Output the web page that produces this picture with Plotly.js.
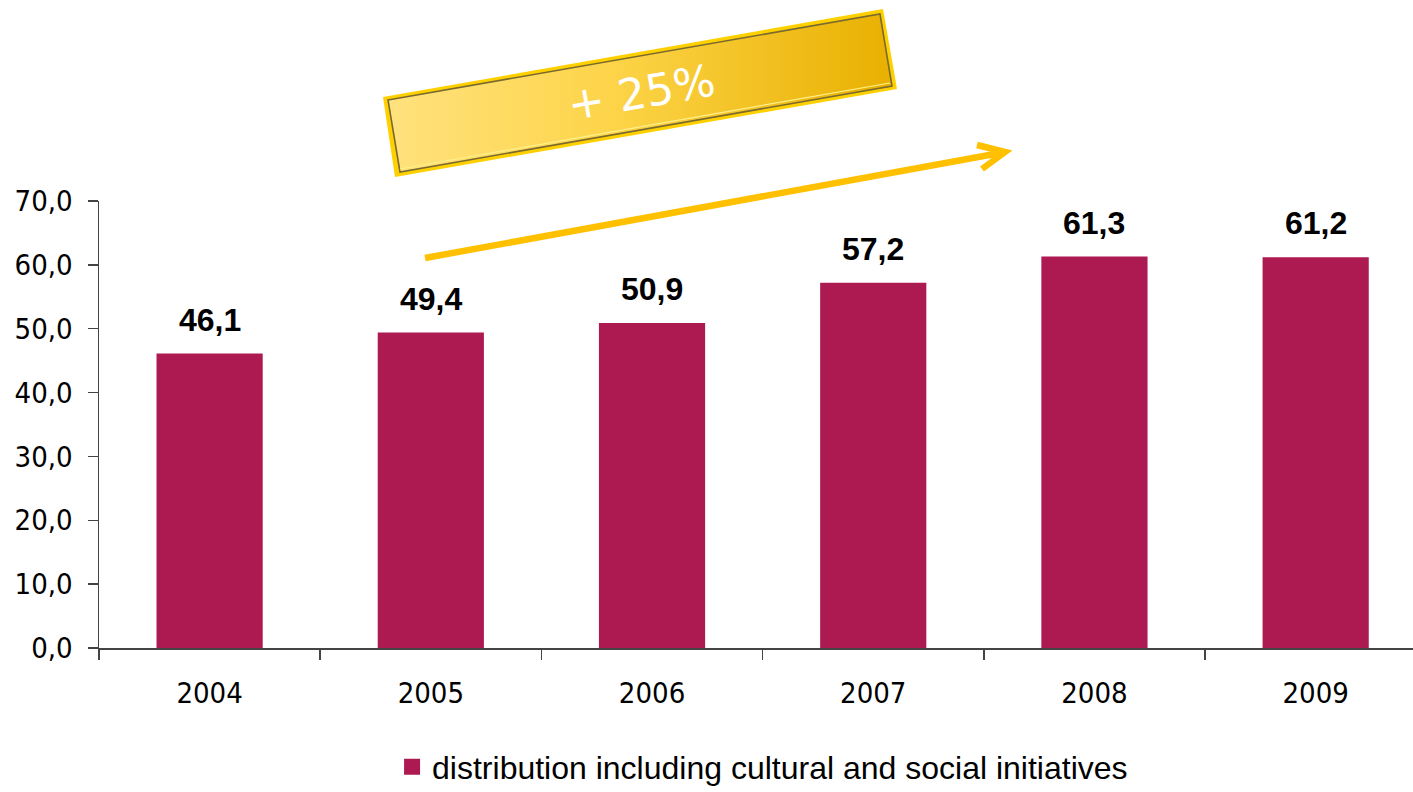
<!DOCTYPE html>
<html>
<head>
<meta charset="utf-8">
<script src="https://cdn.plot.ly/plotly-3.0.1.min.js"></script>
<style>html,body{margin:0;padding:0;background:#fff;}#chart{width:1413px;height:792px;}</style>
</head>
<body>
<div id="chart"></div>
<script>
const years = ['2004', '2005', '2006', '2007', '2008', '2009'];
const distribution = [46.1, 49.4, 50.9, 57.2, 61.3, 61.2];
const seriesName = 'distribution including cultural and social initiatives';
const growthLabel = '+ 25%';
const barColor = '#AD1A52';

const W = 1413, H = 792, L = 99, T = 201, B = 144;
const PW = W - L, PH = H - T - B;
const px = x => (x - L) / PW;
const py = y => (H - B - y) / PH;

const tickFont = {family: '"DejaVu Sans Condensed", "Liberation Sans", sans-serif', size: 29, color: '#000'};

const barLabels = years.map((yr, i) => ({
  x: i, y: distribution[i], xref: 'x', yref: 'y',
  text: '<b>' + distribution[i].toFixed(1).replace('.', ',') + '</b>',
  showarrow: false, yanchor: 'bottom', yshift: 14,
  font: {family: '"Liberation Sans", Arial, sans-serif', size: 32, color: '#000'}
}));

const svg = `<svg xmlns="http://www.w3.org/2000/svg" width="514" height="168" viewBox="0 0 514 168">
<defs><linearGradient id="g" x1="0" y1="0" x2="1" y2="0">
<stop offset="0" stop-color="#FFE27E"/><stop offset="0.45" stop-color="#FDD448"/><stop offset="1" stop-color="#E8B000"/>
</linearGradient></defs>
<polygon points="0,88 500,0 514,80 12,168" fill="#FFD000"/>
<polygon points="5,91 497,5 509,77 17,163" fill="url(#g)" stroke="#7A6A2E" stroke-width="1.6"/>
<polyline points="17,160 507,74" stroke="#FFF08A" stroke-width="1.2" fill="none"/>
</svg>`;
const svgUri = 'data:image/svg+xml;base64,' + btoa(svg);

const arrowColor = '#FFC000';

const data = [
  {type: 'bar', x: years, y: distribution, name: seriesName,
   marker: {color: barColor}, showlegend: false, hoverinfo: 'x+y'},
  {type: 'scatter', mode: 'markers', x: [null], y: [null], name: seriesName,
   marker: {color: barColor, symbol: 'square', size: 20}, showlegend: true, hoverinfo: 'skip'}
];

const layout = {
  width: W, height: H, autosize: false,
  margin: {l: L, r: 0, t: T, b: B, autoexpand: false},
  paper_bgcolor: '#fff', plot_bgcolor: '#fff',
  separators: ', ',
  bargap: 0.52,
  xaxis: {
    type: 'category', range: [-0.5, 5.44], fixedrange: true,
    showline: true, linecolor: '#444', linewidth: 1.5,
    ticks: 'outside', tickson: 'boundaries', ticklen: 10, tickwidth: 1.5, tickcolor: '#444',
    tickfont: tickFont, ticklabelstandoff: 19, showgrid: false, zeroline: false
  },
  yaxis: {
    range: [0, 70], dtick: 10, tick0: 0, tickformat: '.1f', fixedrange: true,
    showline: true, linecolor: '#444', linewidth: 1.5,
    ticks: 'outside', ticklen: 10, tickwidth: 1.5, tickcolor: '#444',
    tickfont: tickFont, ticklabelstandoff: 9, showgrid: false, zeroline: false
  },
  legend: {
    orientation: 'h', x: 0.505, xanchor: 'center', y: py(767), yanchor: 'middle',
    itemsizing: 'trace',
    font: {family: '"Liberation Sans", sans-serif', size: 32, color: '#000'},
    bgcolor: 'rgba(0,0,0,0)'
  },
  images: [{
    source: svgUri, xref: 'paper', yref: 'paper',
    x: px(383), y: py(9), sizex: 514 / PW, sizey: 168 / PH,
    xanchor: 'left', yanchor: 'top', sizing: 'stretch', layer: 'above'
  }],
  shapes: [
    {type: 'line', xref: 'paper', yref: 'paper', x0: px(425), y0: py(258), x1: px(1003), y1: py(152.5),
     line: {color: arrowColor, width: 6.5}},
    {type: 'path', xref: 'paper', yref: 'paper',
     path: `M${px(977)},${py(145)} L${px(1005)},${py(152)} L${px(982)},${py(169)}`,
     line: {color: arrowColor, width: 6.5}}
  ],
  annotations: barLabels.concat([{
    x: px(641), y: py(93), xref: 'paper', yref: 'paper', text: growthLabel,
    showarrow: false, textangle: -10, xanchor: 'center', yanchor: 'middle',
    font: {family: '"DejaVu Sans", sans-serif', size: 44, color: '#fff'}
  }])
};

Plotly.newPlot('chart', data, layout, {displayModeBar: false, staticPlot: true});
</script>
</body>
</html>
